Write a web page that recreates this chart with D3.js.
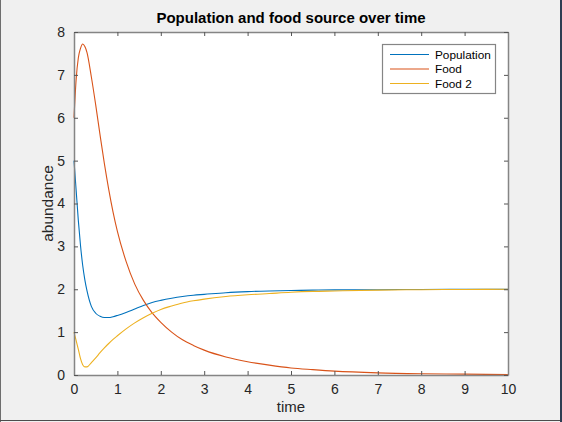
<!DOCTYPE html>
<html>
<head>
<meta charset="utf-8">
<script src="https://cdn.jsdelivr.net/npm/d3@7"></script>
<style>
  body { margin: 0; background: #f0f0f0; }
  svg { display: block; font-family: "Liberation Sans", Arial, sans-serif; }
</style>
</head>
<body>
<div id="main"></div>
<script>
const time = [0, 0.05, 0.1, 0.15, 0.2, 0.25, 0.3, 0.4, 0.5, 0.6, 0.7, 0.8, 0.9, 1.0,
  1.2, 1.4, 1.6, 1.8, 2.0, 2.25, 2.5, 2.75, 3.0, 3.5, 4.0, 4.5, 5, 5.5, 6, 7, 8, 9, 10];
const population = [5.0, 4.3, 3.6, 3.02, 2.56, 2.22, 1.96, 1.6, 1.44, 1.37, 1.34, 1.34, 1.36, 1.39,
  1.46, 1.54, 1.62, 1.69, 1.74, 1.79, 1.83, 1.86, 1.88, 1.92, 1.945, 1.96, 1.97, 1.98, 1.985, 1.99, 1.995, 2.0, 2.0];
const food = [6.0, 6.9, 7.4, 7.62, 7.72, 7.66, 7.52, 6.95, 6.3, 5.6, 4.93, 4.33, 3.8, 3.35,
  2.65, 2.12, 1.74, 1.45, 1.23, 1.0, 0.82, 0.69, 0.58, 0.42, 0.31, 0.23, 0.165, 0.125, 0.09, 0.05, 0.03, 0.02, 0.01];
const food2 = [1.0, 0.8, 0.6, 0.38, 0.24, 0.19, 0.19, 0.29, 0.4, 0.52, 0.63, 0.735, 0.83, 0.915,
  1.075, 1.215, 1.335, 1.44, 1.53, 1.61, 1.68, 1.73, 1.77, 1.83, 1.87, 1.9, 1.93, 1.95, 1.96, 1.98, 1.99, 1.995, 2.0];
const seriesNames = ["Population", "Food", "Food 2"];
const colors = ["#0072bd", "#d95319", "#edb120"];
const xTicks = [0, 1, 2, 3, 4, 5, 6, 7, 8, 9, 10];
const yTicks = [0, 1, 2, 3, 4, 5, 6, 7, 8];

const width = 562;
const height = 422;
const plotL = 74, plotR = 508, plotT = 32, plotB = 375;

const svg = d3.select("#main").append("svg").attr("width", width).attr("height", height);
svg.append("rect").attr("width", width).attr("height", height).attr("fill", "#f0f0f0");

const x = d3.scaleLinear().domain([0, 10]).range([plotL, plotR]);
const y = d3.scaleLinear().domain([0, 8]).range([plotB, plotT]);

svg.append("rect")
  .attr("x", plotL).attr("y", plotT)
  .attr("width", plotR - plotL).attr("height", plotB - plotT)
  .attr("fill", "white");

// lines
const all = [population, food, food2];
const line = d3.line().x((d) => x(d[0])).y((d) => y(d[1])).curve(d3.curveMonotoneX);
all.forEach((vals, i) => {
  svg.append("path")
    .datum(time.map((t, j) => [t, vals[j]]))
    .attr("fill", "none")
    .attr("stroke", colors[i])
    .attr("stroke-width", 1.1)
    .attr("d", line);
});

// axes (MATLAB style box with inward ticks on all sides)
const axisColor = "#858585";
const styleAxis = (g) => {
  g.attr("font-size", null).attr("font-family", null);
  g.select(".domain").attr("stroke", axisColor).attr("stroke-width", 1.5);
  g.selectAll(".tick line").attr("stroke", "#555");
  g.selectAll(".tick text").attr("fill", "#262626").attr("font-size", 14);
};

svg.append("g")
  .attr("transform", `translate(0,${plotB})`)
  .call(d3.axisBottom(x).tickValues(xTicks).tickSizeInner(-4).tickSizeOuter(0).tickPadding(9))
  .call(styleAxis);
svg.append("g")
  .attr("transform", `translate(0,${plotT})`)
  .call(d3.axisTop(x).tickValues(xTicks).tickSizeInner(-4).tickSizeOuter(0).tickFormat(""))
  .call(styleAxis);
svg.append("g")
  .attr("transform", `translate(${plotL},0)`)
  .call(d3.axisLeft(y).tickValues(yTicks).tickSizeInner(-4).tickSizeOuter(0).tickPadding(9))
  .call(styleAxis);
svg.append("g")
  .attr("transform", `translate(${plotR},0)`)
  .call(d3.axisRight(y).tickValues(yTicks).tickSizeInner(-4).tickSizeOuter(0).tickFormat(""))
  .call(styleAxis);

// labels
svg.append("text")
  .attr("x", (plotL + plotR) / 2).attr("y", 23)
  .attr("text-anchor", "middle")
  .attr("font-weight", "bold")
  .attr("font-size", 15)
  .attr("fill", "#000")
  .text("Population and food source over time");

svg.append("text")
  .attr("x", (plotL + plotR) / 2).attr("y", 412)
  .attr("text-anchor", "middle")
  .attr("font-size", 15)
  .attr("fill", "#262626")
  .text("time");

svg.append("text")
  .attr("transform", `translate(53,${(plotT + plotB) / 2}) rotate(-90)`)
  .attr("text-anchor", "middle")
  .attr("font-size", 15.5)
  .attr("fill", "#262626")
  .text("abundance");

// legend
const legend = svg.append("g");
legend.append("rect")
  .attr("x", 382.5).attr("y", 44.5)
  .attr("width", 113).attr("height", 49)
  .attr("fill", "white")
  .attr("stroke", axisColor)
  .attr("stroke-width", 1.2);
seriesNames.forEach((name, i) => {
  const ly = 54.5 + i * 14.5;
  legend.append("line")
    .attr("x1", 390).attr("x2", 429)
    .attr("y1", ly).attr("y2", ly)
    .attr("stroke", colors[i]).attr("stroke-width", 1.1);
  legend.append("text")
    .attr("x", 435).attr("y", ly + 4.3)
    .attr("font-size", 11.8)
    .attr("fill", "#000")
    .text(name);
});

// window frame edges
svg.append("line").attr("x1", 0.5).attr("x2", 0.5).attr("y1", 0).attr("y2", height).attr("stroke", "#6e6e6e");
svg.append("line").attr("x1", 0).attr("x2", width).attr("y1", 420.5).attr("y2", 420.5).attr("stroke", "#4c4c4c");
svg.append("line").attr("x1", 561).attr("x2", 561).attr("y1", 0).attr("y2", height).attr("stroke", "#2e3d52").attr("stroke-width", 2);
</script>
</body>
</html>
